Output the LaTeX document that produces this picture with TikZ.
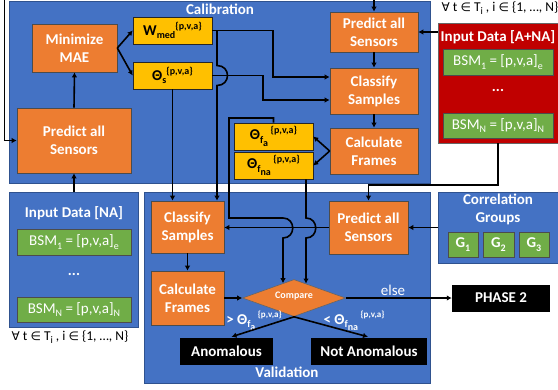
\documentclass[tikz,border=0pt]{standalone}
\usepackage{fontspec}
\setmainfont{Carlito}
\newfontfamily\symfont{DejaVu Sans}
\usetikzlibrary{arrows.meta,shapes.geometric,calc}
\definecolor{pblue}{HTML}{4472C4}
\definecolor{pblueD}{HTML}{2F528F}
\definecolor{orng}{HTML}{ED7D31}
\definecolor{ylw}{HTML}{FFC000}
\definecolor{grn}{HTML}{70AD47}
\definecolor{dred}{HTML}{C00000}
\newcommand{\xlo}[1]{\raisebox{-0.22em}{\fontsize{10}{10}\selectfont #1}}
\newcommand{\xlolo}[1]{\raisebox{-0.35em}{\fontsize{10}{10}\selectfont #1}}
\newcommand{\xhi}[1]{\raisebox{0.42em}{\fontsize{10}{10}\selectfont #1}}
\begin{document}
\begin{tikzpicture}[x=1pt,y=-1pt,
  sz/.style 2 args={minimum width=#1pt,minimum height=#2pt},
  panel/.style={draw=pblueD,line width=0.8pt,fill=pblue,inner sep=0pt},
  obox/.style={draw=black!70,line width=0.6pt,fill=orng,text=white,font=\fontsize{15}{18}\selectfont\bfseries,align=center,inner sep=0pt},
  ybox/.style={draw=black!85,line width=0.6pt,fill=ylw,text=black,font=\fontsize{15}{18}\selectfont\bfseries,inner sep=0pt},
  gbox/.style={draw=black!70,line width=0.6pt,fill=grn,text=white,font=\fontsize{15}{18}\selectfont,inner sep=0pt},
  kbox/.style={fill=black,text=white,font=\fontsize{15}{18}\selectfont\bfseries,inner sep=0pt},
  wlab/.style={text=white,font=\fontsize{15}{18}\selectfont\bfseries,inner sep=0pt},
  conn/.style={line width=1.6pt,black},
  arr/.style={conn,-{Latex[length=5pt,width=5.5pt]}}]
\useasboundingbox (0,0) rectangle (558,389);

% panels
\node[panel,sz={421}{182}] (cal) at (219.5,92) {};
\node[panel,sz={286}{191}] (val) at (287,287.5) {};
\node[panel,sz={129}{135}] (inNA) at (73.5,259.5) {};
\node[panel,sz={124}{71}] (corr) at (500,227.5) {};
\node[draw=black!60,line width=0.8pt,fill=dred,inner sep=0pt,sz={124}{120}] (inAN) at (500,83) {};

% titles and labels
\node[wlab] (calT) at (220,9) {Calibration};
\node[wlab] (valT) at (287,372) {Validation};
\node[wlab] (inNAT) at (74,213) {Input Data [NA]};
\node[wlab] (inANT) at (498,37) {Input Data [A+NA]};
\node[wlab,align=center] (corrT) at (498,209.5) {Correlation\\Groups};
\node[wlab] (dotsA) at (498,90) {...};
\node[wlab] (dotsN) at (74,274) {...};
\node[font=\fontsize{13.5}{16}\selectfont,inner sep=0pt] (faTop) at (500,8) {{\symfont\fontsize{12}{14}\selectfont ∀} t {\symfont\fontsize{12}{14}\selectfont ∈} T\xlo{i} , i {\symfont\fontsize{12}{14}\selectfont ∈} \{1, …, N\}};
\node[font=\fontsize{13.5}{16}\selectfont,inner sep=0pt] (faBot) at (70,337) {{\symfont\fontsize{12}{14}\selectfont ∀} t {\symfont\fontsize{12}{14}\selectfont ∈} T\xlo{i} , i {\symfont\fontsize{12}{14}\selectfont ∈} \{1, …, N\}};

% green boxes
\node[gbox,sz={114}{26}] (b1N) at (74,242) {BSM\xlo{1} = [p,v,a]\xlo{e}};
\node[gbox,sz={114}{25}] (bNN) at (74,309.5) {BSM\xlo{N} = [p,v,a]\xlo{N}};
\node[gbox,sz={110}{26}] (b1A) at (498,62) {BSM\xlo{1} = [p,v,a]\xlo{e}};
\node[gbox,sz={110}{25}] (bNA) at (498,125.5) {BSM\xlo{N} = [p,v,a]\xlo{N}};
\node[gbox,font=\fontsize{15}{18}\selectfont\bfseries,sz={30}{25}] (g1) at (463,244.5) {G\xlo{1}};
\node[gbox,font=\fontsize{15}{18}\selectfont\bfseries,sz={31}{25}] (g2) at (498.5,244.5) {G\xlo{2}};
\node[gbox,font=\fontsize{15}{18}\selectfont\bfseries,sz={30}{25}] (g3) at (534,244.5) {G\xlo{3}};

% orange boxes
\node[obox,sz={85}{48}] (mae) at (74.5,48) {Minimize\\MAE};
\node[obox,sz={114}{65}] (predL) at (74,140.5) {Predict all\\Sensors};
\node[obox,sz={88}{40}] (predR) at (374,32) {Predict all\\Sensors};
\node[obox,sz={88}{46}] (classC) at (374,91) {Classify\\Samples};
\node[obox,sz={88}{46}] (calcC) at (374,151) {Calculate\\Frames};
\node[obox,sz={73}{52}] (classV) at (187.5,227) {Classify\\Samples};
\node[obox,sz={73}{54}] (calcV) at (187.5,298) {Calculate\\Frames};
\node[obox,sz={79}{53}] (predV) at (368.5,227.5) {Predict all\\Sensors};

% yellow boxes
\node[ybox,sz={79}{27}] (wmed) at (172.5,30.5) {W\xlo{med}\xhi{\{p,v,a\}}};
\node[ybox,sz={79}{27}] (ths) at (172.5,75.5) {Θ\xlo{s}\xhi{\{p,v,a\}}};
\node[ybox,sz={79}{27}] (tfa) at (273.5,136.5) {Θ\xlo{f\xlolo{a}}\,\xhi{\{p,v,a\}}};
\node[ybox,sz={79}{27}] (tfna) at (273.5,165.5) {Θ\xlo{f\xlolo{na}}\,\xhi{\{p,v,a\}}};

% compare and outcomes
\node[diamond,fill=orng,draw=black!60,line width=0.6pt,inner sep=0pt,sz={103}{37},text=white,font=\fontsize{10}{12}\selectfont\bfseries] (cmp) at (294,298) {\makebox[0pt]{\smash{Compare}}};
\node[kbox,sz={98}{27}] (ph2) at (501,298) {PHASE 2};
\node[kbox,sz={93}{27}] (anom) at (226.5,351.5) {Anomalous};
\node[kbox,sz={116}{27}] (nanom) at (369,351.5) {Not Anomalous};
\node[text=white,font=\fontsize{15}{18}\selectfont,inner sep=0pt] (elseT) at (393,290) {else};
\node[wlab] (gtT) at (254,321) {> Θ\xlo{f\xlolo{a}}\,\xhi{\fontsize{9}{9}\selectfont\{p,v,a\}}};
\node[wlab] (ltT) at (354,321) {< Θ\xlo{f\xlolo{na}}\,\xhi{\fontsize{9}{9}\selectfont\{p,v,a\}}};

% coordinates
\coordinate (tl) at (5,0);
\coordinate (tlc) at (5,140.5);
\coordinate (tr) at (374,0);
\coordinate (wA) at (217,30.5);
\coordinate (wB) at (273,30.5);
\coordinate (wC) at (273,77);
\coordinate (sA) at (263,75.5);
\coordinate (sB) at (263,100);
\coordinate (aA) at (498,185);
\coordinate (faA) at (229,118);
\coordinate (faB) at (229,218);
\coordinate (faC) at (283,218);
\coordinate (faD) at (283,238);
\coordinate (fnA) at (306,218);
\coordinate (fnB) at (306,238);

% connectors
\draw[black,line width=0.8pt,double=white,double distance=0.8pt] (tl) -- (tlc);
\draw[arr] ($(tlc)+(-1.2,0)$) -- (predL.west);
\draw[arr] (tr) -- (predR.north);
\draw[arr] (predL.north) -- (mae.south);
\draw[arr] (predL.south |- inNA.north) -- (predL.south);
\draw[arr] (mae.east) -- (wmed.west);
\draw[arr] (mae.east) -- (ths.west);
\draw[arr] (wmed.east) -- (wB) -- (wC) -- (wC -| classC.west);
\draw[arr] (ths.east) -- (sA) -- (sB) -- (sB -| classC.west);
\draw[arr] (wA) -- (217,65.5) .. controls (231,65.5) and (231,85.5) .. (217,85.5) -- (wA |- classV.north);
\draw[arr] (ths.south) -- (ths.south |- classV.north);
\draw[arr] (predR.south) -- (classC.north);
\draw[arr] (classC.south) -- (calcC.north);
\draw[arr] (calcC.west) -- (tfa.east);
\draw[arr] (calcC.west) -- (tfna.east);
\draw[arr] (predR.east -| inAN.west) -- (predR.east);
\draw[arr] (aA |- inAN.south) -- (aA) -| (predV.north);
\draw[arr] (predV.west) -- (predV.west -| classV.east);
\draw[arr] (tfa.north) -- (tfa.north |- faA) -- (faA) -- (faB) -- (faC) .. controls (296,218) and (296,238) .. (faD) -- (faD |- cmp.127);
\draw[arr] (fnA |- tfna.south) -- (fnA) .. controls (319,218) and (319,238) .. (fnB) -- (fnB |- cmp.50);
\draw[arr] (corr.west) -- (predV.east);
\draw[arr] (classV.south) -- (calcV.north);
\draw[arr] (calcV.east) -- (cmp.west);
\draw[arr] (cmp.east) -- (ph2.west);
\draw[arr] (cmp.south) -- ($(anom.north)+(5,-1)$);
\draw[arr] (cmp.south) -- ($(nanom.north)+(-1,-1)$);
\end{tikzpicture}
\end{document}
